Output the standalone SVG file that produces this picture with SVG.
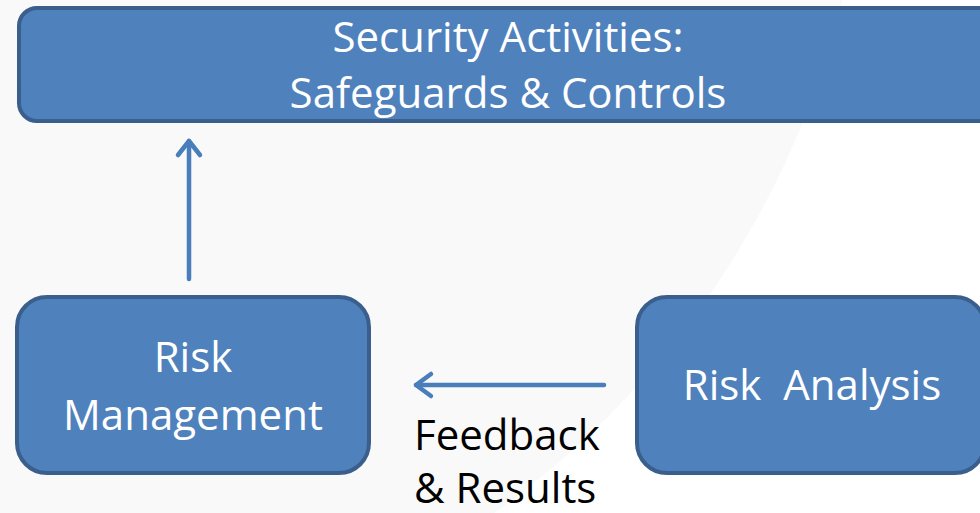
<svg xmlns="http://www.w3.org/2000/svg" width="980" height="513" viewBox="0 0 980 513">
  <style>
    .box { fill: #4f81bd; stroke: #3b5f8c; stroke-width: 4; }
    .lbl { font-family: "Open Sans", "Liberation Sans", sans-serif; font-size: 42px; fill: #ffffff; text-anchor: middle; }
    .note { font-family: "Open Sans", "Liberation Sans", sans-serif; font-size: 42px; fill: #000000; }
    .conn { fill: none; stroke: #4a7ebb; stroke-width: 4.5; stroke-linecap: round; stroke-linejoin: round; }
  </style>

  <!-- backdrop: white page with a soft grey disc on the left -->
  <rect x="0" y="0" width="980" height="513" fill="#ffffff"/>
  <circle cx="-22" cy="-212" r="890" fill="#f9f9f9"/>

  <g id="security-activities">
    <rect class="box" x="19" y="8" width="990" height="113" rx="18"/>
    <text class="lbl" x="508" y="52">Security Activities:</text>
    <text class="lbl" x="508" y="108">Safeguards &amp; Controls</text>
  </g>

  <g id="risk-management">
    <rect class="box" x="17" y="297" width="352" height="176" rx="30"/>
    <text class="lbl" x="193" y="372">Risk</text>
    <text class="lbl" x="193" y="430">Management</text>
  </g>

  <g id="risk-analysis">
    <rect class="box" x="637" y="297" width="348" height="176" rx="30"/>
    <text class="lbl" x="812" y="400" xml:space="preserve">Risk  Analysis</text>
  </g>

  <g id="connectors">
    <!-- Risk Management up to Security Activities -->
    <path class="conn" d="M189 279 V141"/>
    <path class="conn" d="M178 155 L189 141 L200 155"/>
    <!-- Risk Analysis back to Risk Management -->
    <path class="conn" d="M604 385 H416"/>
    <path class="conn" d="M431 374 L416 385 L431 396"/>
    <text class="note" x="414" y="450">Feedback</text>
    <text class="note" x="414" y="503">&amp; Results</text>
  </g>
</svg>
